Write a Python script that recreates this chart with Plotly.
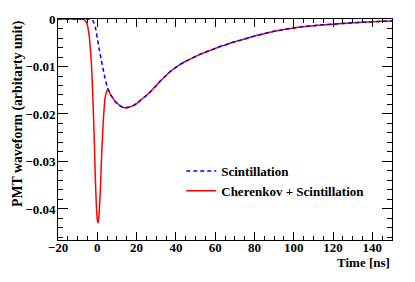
import plotly.graph_objects as go

# Scintillation-only waveform (blue dashed)
scint_t = [-20, -10, -5, -3, -2, -1, 0, 1, 2, 3, 4, 5, 6, 7, 8, 9, 10, 12, 14, 16, 18, 20,
           22, 25, 27, 30, 32, 35, 37, 40, 42, 45, 47, 50, 52.5, 55, 57.5, 60, 62.5, 65,
           67.5, 70, 72.5, 75, 77.5, 80, 85, 90, 95, 100, 105, 110, 115, 120, 125, 130, 135,
           140, 145, 150]
scint_v = [0, 0, 0, 0, -0.0005, -0.0017, -0.0040, -0.0064, -0.0086, -0.0106, -0.0126,
           -0.0142, -0.0153, -0.0161, -0.0167, -0.0173, -0.0177, -0.0184, -0.0187, -0.0186,
           -0.0183, -0.0178, -0.0171, -0.0161, -0.0153, -0.0140, -0.0131, -0.0119, -0.0111,
           -0.0102, -0.0096, -0.0089, -0.0085, -0.0079, -0.0074, -0.0070, -0.0066, -0.0062,
           -0.0058, -0.0055, -0.0051, -0.0048, -0.0045, -0.0042, -0.0039, -0.0036, -0.0031,
           -0.0026, -0.0022, -0.0019, -0.0016, -0.0014, -0.0012, -0.0011, -0.00095, -0.0008,
           -0.0007, -0.0006, -0.0005, -0.0004]

# Cherenkov + Scintillation waveform (red solid)
total_t = [-20, -10, -7, -6, -5, -4.5, -4, -3.5, -3, -2.5, -2, -1.5, -1, -0.5, 0, 0.3, 0.6,
           1, 1.5, 2, 2.5, 3, 3.5, 4, 4.5, 5, 5.5, 6, 7, 8, 9, 10, 12, 14, 16, 18, 20,
           22, 25, 27, 30, 32, 35, 37, 40, 42, 45, 47, 50, 52.5, 55, 57.5, 60, 62.5, 65,
           67.5, 70, 72.5, 75, 77.5, 80, 85, 90, 95, 100, 105, 110, 115, 120, 125, 130, 135,
           140, 145, 150]
total_v = [0, 0, -0.0001, -0.0004, -0.0013, -0.0025, -0.0040, -0.0065, -0.0093, -0.0140,
           -0.0195, -0.0260, -0.0335, -0.0390, -0.0422, -0.0429, -0.0425, -0.0405, -0.0365,
           -0.0310, -0.0260, -0.0218, -0.0187, -0.0165, -0.0156, -0.0150, -0.0149, -0.0153,
           -0.0161, -0.0167, -0.0173, -0.0177, -0.0184, -0.0187, -0.0186,
           -0.0183, -0.0178, -0.0171, -0.0161, -0.0153, -0.0140, -0.0131, -0.0119, -0.0111,
           -0.0102, -0.0096, -0.0089, -0.0085, -0.0079, -0.0074, -0.0070, -0.0066, -0.0062,
           -0.0058, -0.0055, -0.0051, -0.0048, -0.0045, -0.0042, -0.0039, -0.0036, -0.0031,
           -0.0026, -0.0022, -0.0019, -0.0016, -0.0014, -0.0012, -0.0011, -0.00095, -0.0008,
           -0.0007, -0.0006, -0.0005, -0.0004]

series_names = ["Scintillation", "Cherenkov + Scintillation"]
x_title = "Time [ns]"
y_title = "PMT waveform (arbitarty unit)"

FONT = "Liberation Serif"
fsz = 13

fig = go.Figure()
# red first so the blue dashes are drawn on top of it (as in the reference)
fig.add_trace(go.Scatter(x=total_t, y=total_v, mode="lines", name=series_names[1],
                         legendrank=2,
                         line=dict(color="#ff0000", width=1.5, shape="spline", smoothing=0.6)))
fig.add_trace(go.Scatter(x=scint_t, y=scint_v, mode="lines", name=series_names[0],
                         legendrank=1,
                         line=dict(color="#0000ff", width=1.5, dash="4px,3px", shape="spline",
                                   smoothing=0.6)))

axis_common = dict(showline=True, linecolor="black", linewidth=1, mirror="allticks",
                   ticks="inside", tickcolor="black", tickwidth=1, showgrid=False,
                   zeroline=False,
                   tickfont=dict(family=FONT, size=fsz, color="black", weight="bold"))

fig.update_xaxes(range=[-20, 150], tickmode="linear", tick0=-20, dtick=20, ticklen=8,
                 ticklabelstandoff=-5,
                 minor=dict(ticks="inside", dtick=5, ticklen=4, tickcolor="black",
                            showgrid=False),
                 **axis_common)
fig.update_yaxes(range=[-0.04653, 0], tickmode="linear", tick0=0, dtick=0.01, ticklen=10,
                 ticklabelstandoff=-1,
                 minor=dict(ticks="inside", dtick=0.002, ticklen=5, tickcolor="black",
                            showgrid=False),
                 **axis_common)

fig.add_annotation(text=x_title, xref="paper", yref="paper", x=1, y=-0.103,
                   xanchor="right", yanchor="middle", showarrow=False,
                   font=dict(family=FONT, size=fsz, color="black", weight="bold"))
fig.add_annotation(text=y_title, xref="paper", yref="paper", x=-0.12, y=1,
                   xanchor="center", yanchor="top", textangle=-90, showarrow=False,
                   font=dict(family=FONT, size=13.8, color="black", weight="bold"))

fig.update_layout(
    width=415, height=282,
    margin=dict(l=58, r=23, t=19, b=42),
    paper_bgcolor="white", plot_bgcolor="white",
    showlegend=True,
    legend=dict(x=0.369, y=0.38, xanchor="left", yanchor="top", tracegroupgap=0,
                bgcolor="rgba(0,0,0,0)", borderwidth=0,
                font=dict(family=FONT, size=fsz, color="black", weight="bold")),
)

fig.write_html("out.html", config={"displayModeBar": False},
               post_script="document.body.style.margin='0px';")
